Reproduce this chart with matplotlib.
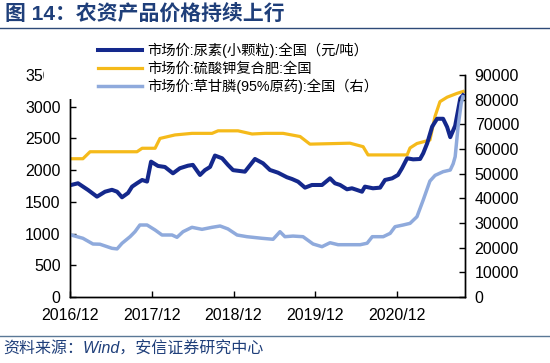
import matplotlib

matplotlib.use("Agg")
import matplotlib.pyplot as plt
import matplotlib.dates as mdates
from matplotlib.patches import Rectangle
import pandas as pd

plt.rcParams["font.family"] = ["Liberation Sans", "Noto Sans CJK SC"]

# 市场价:尿素(小颗粒):全国 (元/吨, left axis)
urea_dates = [
    "2016-12-04", "2017-01-04", "2017-02-18", "2017-03-30", "2017-05-05", "2017-06-05",
    "2017-06-28", "2017-07-20", "2017-08-16", "2017-09-03", "2017-09-25", "2017-10-18",
    "2017-11-09", "2017-11-27", "2017-12-28", "2018-01-28", "2018-03-05", "2018-04-05",
    "2018-05-11", "2018-06-02", "2018-07-04", "2018-07-26", "2018-08-18", "2018-09-09",
    "2018-10-11", "2018-11-06", "2018-11-29", "2019-01-21", "2019-03-07", "2019-04-12",
    "2019-05-13", "2019-06-18", "2019-07-28", "2019-08-20", "2019-09-16", "2019-10-17",
    "2019-11-17", "2020-01-01", "2020-02-06", "2020-02-28", "2020-03-22", "2020-04-22",
    "2020-05-14", "2020-06-06", "2020-06-28", "2020-07-11", "2020-08-16", "2020-09-17",
    "2020-10-09", "2020-11-10", "2020-12-06", "2020-12-24", "2021-01-16", "2021-02-12",
    "2021-03-15", "2021-03-29", "2021-04-16", "2021-05-08", "2021-05-30", "2021-06-26",
    "2021-07-14", "2021-07-28", "2021-08-19", "2021-09-11", "2021-09-23",
]
urea = [
    1766, 1793, 1687, 1582, 1660, 1690,
    1660, 1572, 1640, 1740, 1793, 1845,
    1820, 2134, 2066, 2050, 1950, 2030,
    2070, 2083, 1924, 2000, 2050, 2230,
    2187, 2083, 2000, 1976, 2176, 2108,
    2003, 1960, 1888, 1860, 1818, 1724,
    1766, 1766, 1871, 1793, 1766, 1698,
    1714, 1687, 1660, 1740, 1714, 1724,
    1845, 1871, 1924, 2030, 2187, 2170,
    2176, 2266, 2424, 2686, 2810, 2810,
    2680, 2520, 2700, 3130, 3180,
]

# 市场价:硫酸钾复合肥:全国 (left axis)
npk_dates = [
    "2016-12-04", "2017-01-26", "2017-02-27", "2017-09-25", "2017-10-18", "2017-12-15",
    "2018-01-06", "2018-03-14", "2018-05-29", "2018-08-27", "2018-09-23", "2018-12-21",
    "2019-02-22", "2019-04-21", "2019-07-11", "2019-09-25", "2019-11-08", "2020-05-05",
    "2020-07-03", "2020-07-25", "2021-01-16", "2021-01-29", "2021-03-01", "2021-04-28",
    "2021-05-21", "2021-06-12", "2021-07-14", "2021-08-27", "2021-09-23",
]
npk = [
    2180, 2180, 2290, 2290, 2345, 2345,
    2500, 2555, 2580, 2580, 2620, 2620,
    2570, 2580, 2580, 2530, 2410, 2425,
    2370, 2240, 2240, 2350, 2420, 2475,
    2850, 3080, 3150, 3210, 3240,
]

# 市场价:草甘膦(95%原药):全国 (right axis)
glyph_dates = [
    "2016-12-04", "2017-01-26", "2017-03-12", "2017-04-12", "2017-06-05", "2017-06-28",
    "2017-07-20", "2017-08-25", "2017-09-16", "2017-10-08", "2017-11-09", "2017-12-15",
    "2018-01-15", "2018-03-01", "2018-03-23", "2018-04-19", "2018-05-29", "2018-07-13",
    "2018-08-27", "2018-10-02", "2018-11-06", "2018-12-17", "2019-01-30", "2019-04-07",
    "2019-05-27", "2019-06-27", "2019-07-19", "2019-08-24", "2019-10-08", "2019-11-22",
    "2020-01-01", "2020-02-06", "2020-03-13", "2020-06-20", "2020-07-21", "2020-08-13",
    "2020-10-01", "2020-11-01", "2020-11-23", "2020-12-29", "2021-01-29", "2021-03-01",
    "2021-03-29", "2021-04-28", "2021-05-21", "2021-06-26", "2021-07-28", "2021-08-10",
    "2021-08-19", "2021-09-01", "2021-09-15", "2021-09-23",
]
glyph = [
    25135, 23800, 21486, 21400, 19740, 19500,
    21770, 24450, 26470, 29190, 29190, 27160,
    25135, 25135, 24200, 26470, 28250, 27430,
    28250, 28780, 27600, 25135, 24450, 23800,
    23400, 26470, 24450, 24700, 24450, 21490,
    20400, 22000, 21200, 21200, 21800, 24450,
    24450, 25800, 28500, 29190, 29860, 32550,
    39320, 47000, 49300, 50800, 51480, 54000,
    56880, 69040, 78500, 81200,
]

x_ticks = ["2016-12-01", "2017-12-01", "2018-12-01", "2019-12-01", "2020-12-01"]
left_ticks = [0, 500, 1000, 1500, 2000, 2500, 3000, 3500]
right_ticks = [0, 10000, 20000, 30000, 40000, 50000, 60000, 70000, 80000, 90000]

labels = [
    "市场价:尿素(小颗粒):全国（元/吨）",
    "市场价:硫酸钾复合肥:全国",
    "市场价:草甘膦(95%原药):全国（右）",
]
colors = ["#14288C", "#F5BA1A", "#8FAADC"]

W, H = 550, 363
fig = plt.figure(figsize=(W / 100, H / 100), dpi=100)
ax = fig.add_axes([70.4 / W, 1 - 297 / H, (465 - 70.4) / W, (297 - 75) / H])
ax2 = ax.twinx()

l1, = ax.plot(pd.to_datetime(urea_dates), urea, color=colors[0], lw=2.9, zorder=3)
l2, = ax.plot(pd.to_datetime(npk_dates), npk, color=colors[1], lw=2.3, zorder=2)
l3, = ax2.plot(pd.to_datetime(glyph_dates), glyph, color=colors[2], lw=2.5)

ax.set_xlim(pd.Timestamp("2016-12-01"), pd.Timestamp("2021-10-02"))
ax.set_xticks(pd.to_datetime(x_ticks))
ax.xaxis.set_major_formatter(mdates.DateFormatter("%Y/%m"))
ax.set_ylim(0, 3500)
ax.set_yticks(left_ticks)
ax2.set_ylim(0, 90000)
ax2.set_yticks(right_ticks)

for a in (ax, ax2):
    a.spines["top"].set_visible(False)
    for s in ("left", "right", "bottom"):
        a.spines[s].set_linewidth(1.0)
    a.tick_params(direction="in", length=4, width=1.0, labelsize=11.5, pad=7)
ax.tick_params(axis="x", pad=8)

# white box behind the legend (covers the top of the left axis as in the source)
fig.add_artist(Rectangle((44 / W, 1 - 99 / H), (400 - 44) / W, (99 - 36) / H,
                         transform=fig.transFigure, facecolor="white",
                         edgecolor="none", zorder=2))
fig.legend([l1, l2, l3], labels, loc="upper left", bbox_to_anchor=(98 / W, 1 - 43 / H),
           frameon=False, fontsize=10.3, handlelength=3.1, handletextpad=0.35,
           labelspacing=0.22, borderpad=0, borderaxespad=0)

fig.text(5 / W, 1 - 14 / H, "图 14：农资产品价格持续上行", fontsize=15,
         fontweight="bold", color="#1F3F7A", va="center", ha="left")
fig.add_artist(plt.Line2D([0, 1], [1 - 28 / H, 1 - 28 / H], transform=fig.transFigure,
                          color="#2E4A78", lw=1.0))
fig.add_artist(plt.Line2D([0, 1], [1 - 336 / H, 1 - 336 / H], transform=fig.transFigure,
                          color="#5A7896", lw=1.0))
fig.text(3 / W, 1 - 349 / H, "资料来源：Wind，安信证券研究中心", fontsize=11.5,
         style="italic", color="#1F3F7A", va="center", ha="left")

fig.savefig("out.png", dpi=100)
